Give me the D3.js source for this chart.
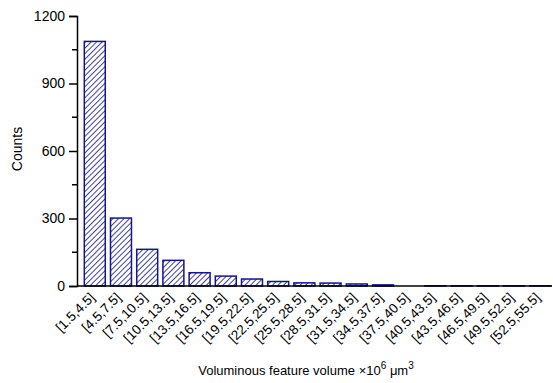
<!DOCTYPE html>
<html>
<head>
<meta charset="utf-8">
<script src="https://cdn.jsdelivr.net/npm/d3@7"></script>
<style>
body { margin: 0; background: #fff; }
text { font-family: "Liberation Sans", Arial, sans-serif; fill: #000; }
</style>
</head>
<body>
<script>
// bin labels and counts
const bins = ["[1.5,4.5]", "[4.5,7.5]", "[7.5,10.5]", "[10.5,13.5]", "[13.5,16.5]",
  "[16.5,19.5]", "[19.5,22.5]", "[22.5,25.5]", "[25.5,28.5]", "[28.5,31.5]",
  "[31.5,34.5]", "[34.5,37.5]", "[37.5,40.5]", "[40.5,43.5]", "[43.5,46.5]",
  "[46.5,49.5]", "[49.5,52.5]", "[52.5,55.5]"];
const counts = [1087, 302, 163, 114, 59, 44, 31, 20, 14, 13, 9, 5, 0, 1, 1, 1, 1, 1];
const yTicks = [0, 300, 600, 900, 1200];
const yMinor = [150, 450, 750, 1050];

const W = 553, H = 383;
const navy = "#15158a";

const svg = d3.select("body").append("svg")
  .attr("width", W).attr("height", H);

const x = d3.scaleBand().domain(bins).range([83, 552])
  .paddingInner(0.2).paddingOuter(0.05);
const y = d3.scaleLinear().domain([0, 1200]).range([286, 16]);

// hatch pattern
const defs = svg.append("defs");
const pat = defs.append("pattern")
  .attr("id", "hatch")
  .attr("patternUnits", "userSpaceOnUse")
  .attr("width", 3.9).attr("height", 3.9)
  .attr("patternTransform", "rotate(45)");
pat.append("rect").attr("width", 3.9).attr("height", 3.9).attr("fill", "#fff");
pat.append("line").attr("x1", 0).attr("y1", 0).attr("x2", 0).attr("y2", 3.9)
  .attr("stroke", navy).attr("stroke-width", 1.6);

svg.append("g").selectAll("rect")
  .data(counts)
  .join("rect")
  .attr("x", (d, i) => x(bins[i]))
  .attr("width", x.bandwidth())
  .attr("y", d => y(d))
  .attr("height", d => y(0) - y(d))
  .attr("fill", "url(#hatch)")
  .attr("stroke", navy)
  .attr("stroke-width", 1.5);

// y axis
const yAxis = svg.append("g")
  .attr("transform", "translate(77,0)")
  .call(d3.axisLeft(y).tickValues(yTicks).tickSize(8).tickPadding(4).tickFormat(d3.format("d")));
yAxis.selectAll("text").style("font-size", "14px").style("font-family", "'Liberation Sans', Arial, sans-serif");
yAxis.select(".domain").attr("stroke-width", 1.5);
yAxis.selectAll(".tick line").attr("stroke-width", 1.5);

svg.append("g").selectAll("line")
  .data(yMinor)
  .join("line")
  .attr("x1", 72).attr("x2", 77)
  .attr("y1", d => y(d)).attr("y2", d => y(d))
  .attr("stroke", "#000").attr("stroke-width", 1.5);

// x axis
svg.append("line")
  .attr("x1", 77).attr("x2", 552)
  .attr("y1", y(0)).attr("y2", y(0))
  .attr("stroke", "#000").attr("stroke-width", 1.5);

svg.append("g").selectAll("text")
  .data(bins)
  .join("text")
  .attr("transform", d => `translate(${x(d) + x.bandwidth() / 2 - 2.5},${y(0) + 9}) rotate(-45)`)
  .attr("text-anchor", "end")
  .attr("dy", "0.35em")
  .style("font-size", "13.5px")
  .text(d => d);

// titles
svg.append("text")
  .attr("transform", "translate(22,149) rotate(-90)")
  .attr("text-anchor", "middle")
  .style("font-size", "14px")
  .text("Counts");

const xt = svg.append("text")
  .attr("x", 306).attr("y", 375)
  .attr("text-anchor", "middle")
  .style("font-size", "13px");
xt.append("tspan").text("Voluminous feature volume \u00d710");
xt.append("tspan").attr("dy", -6).style("font-size", "10px").text("6");
xt.append("tspan").attr("dy", 6).text(" \u03bcm");
xt.append("tspan").attr("dy", -6).style("font-size", "10px").text("3");
</script>
</body>
</html>
